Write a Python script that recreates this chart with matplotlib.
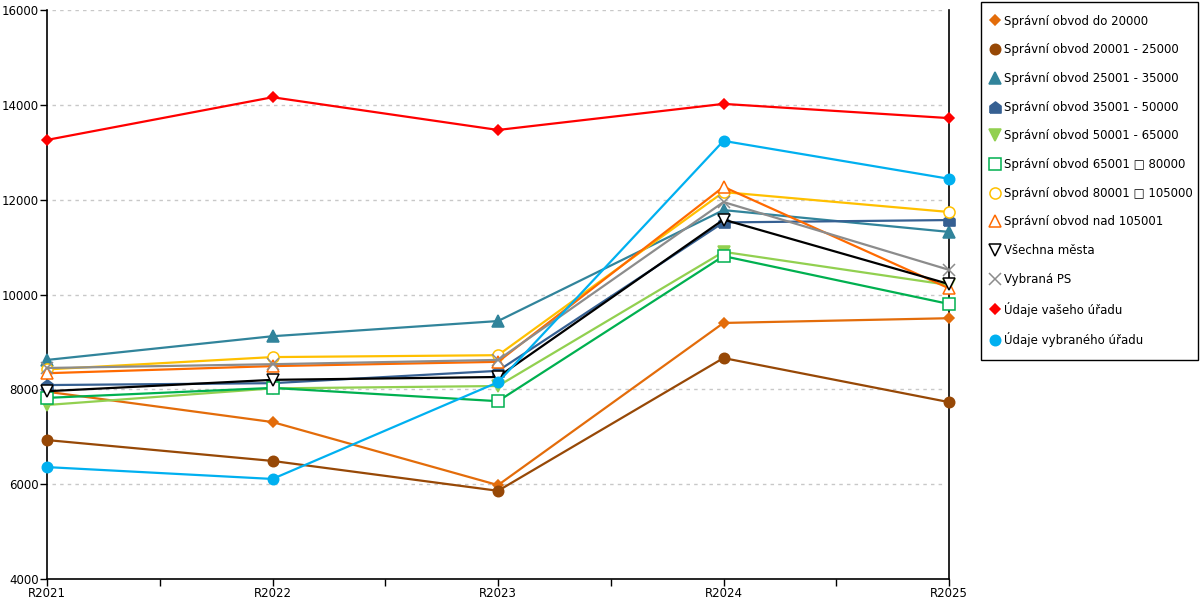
import matplotlib
matplotlib.use("Agg")
import matplotlib.pyplot as plt
from matplotlib.lines import Line2D
from matplotlib.ticker import MultipleLocator

plt.rcParams['font.family'] = ['DejaVu Sans']

years = ['R2021', 'R2022', 'R2023', 'R2024', 'R2025']

do_20000 = [7950, 7310, 5980, 9400, 9500]
obvod_20001_25000 = [6930, 6490, 5860, 8660, 7730]
obvod_25001_35000 = [8620, 9120, 9440, 11780, 11320]
obvod_35001_50000 = [8090, 8130, 8390, 11520, 11570]
obvod_50001_65000 = [7670, 8020, 8070, 10900, 10200]
obvod_65001_80000 = [7820, 8030, 7750, 10810, 9800]
obvod_80001_105000 = [8420, 8680, 8720, 12160, 11740]
nad_105001 = [8340, 8490, 8580, 12270, 10130]
vsechna_mesta = [7960, 8200, 8260, 11580, 10220]
vybrana_ps = [8450, 8530, 8620, 11950, 10520]
vas_urad = [13260, 14160, 13470, 14020, 13720]
vybrany_urad = [6360, 6110, 8150, 13240, 12440]

house = [(-1, -1), (1, -1), (1, 0.25), (0, 1), (-1, 0.25), (-1, -1)]

# (label, values, colour, marker, filled, markersize)
series = [
    ('Správní obvod do 20000', do_20000, '#E36C0A', 'D', True, 5.5),
    ('Správní obvod 20001 - 25000', obvod_20001_25000, '#974806', 'o', True, 7.5),
    ('Správní obvod 25001 - 35000', obvod_25001_35000, '#31849B', '^', True, 8),
    ('Správní obvod 35001 - 50000', obvod_35001_50000, '#366092', house, True, 8),
    ('Správní obvod 50001 - 65000', obvod_50001_65000, '#92D050', 'v', True, 8),
    ('Správní obvod 65001 \u25a1 80000', obvod_65001_80000, '#00B050', 's', False, 8),
    ('Správní obvod 80001 \u25a1 105000', obvod_80001_105000, '#FFC000', 'o', False, 8),
    ('Správní obvod nad 105001', nad_105001, '#FF6A00', '^', False, 8.5),
    ('Všechna města', vsechna_mesta, '#000000', 'v', False, 8.5),
    ('Vybraná PS', vybrana_ps, '#8C8C8C', 'x', False, 8),
    ('Údaje vašeho úřadu', vas_urad, '#FF0000', 'D', True, 5.5),
    ('Údaje vybraného úřadu', vybrany_urad, '#00B0F0', 'o', True, 7.5),
]

fig = plt.figure(figsize=(12, 6), dpi=100)
ax = fig.add_axes([47 / 1200, 21 / 600, 902 / 1200, 569 / 600])

x = list(range(len(years)))
handles = []
for label, vals, col, mk, filled, ms in series:
    face = col if (filled or mk == 'x') else 'white'
    ax.plot(x, vals, color=col, lw=1.6, marker=mk, markersize=ms,
            markerfacecolor=face, markeredgecolor=col, markeredgewidth=1.1,
            clip_on=False, zorder=3)
    handles.append(Line2D([], [], ls='none', marker=mk, markersize=ms,
                          markerfacecolor=face if face != 'white' else 'none',
                          markeredgecolor=col, markeredgewidth=1.1, label=label))

ax.set_xlim(0, 4)
ax.set_ylim(4000, 16000)
ax.set_xticks(x)
ax.set_xticklabels(years)
ax.xaxis.set_minor_locator(MultipleLocator(0.5))
ax.set_yticks(range(4000, 16001, 2000))

for yv in range(6000, 16001, 2000):
    ax.plot([0.02, 3.98], [yv, yv], color='#C8C8C8', lw=1, ls=(0, (2.5, 3)), zorder=1)

ax.spines['top'].set_visible(False)
for s in ('left', 'bottom', 'right'):
    ax.spines[s].set_color('black')
    ax.spines[s].set_linewidth(1.2)

ax.tick_params(axis='both', which='both', direction='out', length=5,
               width=1, colors='black', labelsize=8.5, pad=1)

fig.legend(handles=handles, loc='upper left',
           bbox_to_anchor=(980 / 1200, 241 / 600, 219 / 1200, 358 / 600),
           mode='expand', frameon=True, fancybox=False, edgecolor='black',
           framealpha=1, fontsize=8.5, labelspacing=1.33, handlelength=0.2,
           handletextpad=0.7, borderpad=1.05, borderaxespad=0.1)

fig.savefig('out.png', dpi=100)
